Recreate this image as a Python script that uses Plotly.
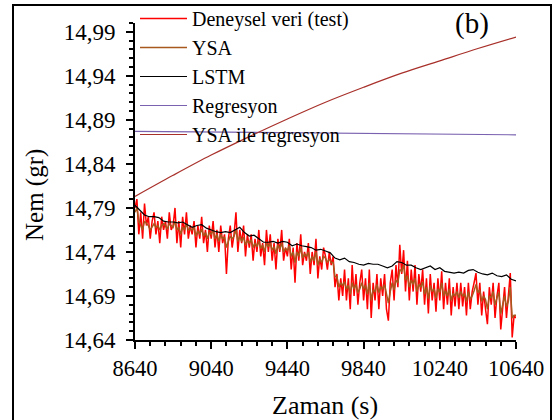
import numpy as np
import plotly.graph_objects as go

# ---------------- data ----------------
t_exp = list(range(8640, 10641, 10))
deneysel = [
    14.790, 14.800, 14.760, 14.785, 14.755, 14.795, 14.770, 14.780, 14.755, 14.775,
    14.785, 14.760, 14.775, 14.750, 14.780, 14.765, 14.775, 14.755, 14.785, 14.765,
    14.770, 14.790, 14.750, 14.775, 14.745, 14.780, 14.760, 14.785, 14.755, 14.770,
    14.760, 14.775, 14.745, 14.770, 14.755, 14.780, 14.750, 14.765, 14.740, 14.770,
    14.755, 14.775, 14.745, 14.765, 14.740, 14.770, 14.750, 14.760, 14.715, 14.755,
    14.770, 14.745, 14.760, 14.785, 14.740, 14.765, 14.750, 14.770, 14.735, 14.760,
    14.745, 14.760, 14.730, 14.755, 14.740, 14.765, 14.735, 14.750, 14.725, 14.765,
    14.740, 14.760, 14.730, 14.750, 14.720, 14.755, 14.740, 14.765, 14.730, 14.745,
    14.735, 14.755, 14.720, 14.745, 14.705, 14.750, 14.730, 14.760, 14.725, 14.740,
    14.730, 14.750, 14.715, 14.740, 14.725, 14.755, 14.710, 14.735, 14.720, 14.745,
    14.735, 14.720, 14.740, 14.725, 14.735, 14.700, 14.715, 14.685, 14.710, 14.690,
    14.720, 14.685, 14.710, 14.675, 14.725, 14.690, 14.715, 14.680, 14.705, 14.720,
    14.685, 14.710, 14.675, 14.720, 14.665, 14.705, 14.685, 14.715, 14.675, 14.710,
    14.690, 14.715, 14.675, 14.662, 14.705, 14.720, 14.685, 14.725, 14.700, 14.748,
    14.715, 14.742, 14.695, 14.730, 14.685, 14.720, 14.695, 14.725, 14.680, 14.715,
    14.695, 14.720, 14.680, 14.710, 14.670, 14.715, 14.685, 14.705, 14.672, 14.710,
    14.685, 14.718, 14.675, 14.705, 14.680, 14.710, 14.668, 14.700, 14.678, 14.705,
    14.675, 14.705, 14.678, 14.700, 14.668, 14.705, 14.675, 14.695, 14.705, 14.716,
    14.680, 14.705, 14.668, 14.695, 14.675, 14.658, 14.700, 14.680, 14.705, 14.665,
    14.690, 14.705, 14.652, 14.678, 14.700, 14.665, 14.688, 14.716, 14.643, 14.668,
    14.665,
]
ysa = [
    14.785, 14.790, 14.775, 14.770, 14.765, 14.775, 14.772, 14.770, 14.765, 14.768,
    14.772, 14.768, 14.770, 14.765, 14.770, 14.772, 14.770, 14.766, 14.772, 14.770,
    14.768, 14.775, 14.765, 14.768, 14.760, 14.768, 14.765, 14.772, 14.765, 14.766,
    14.765, 14.768, 14.758, 14.764, 14.760, 14.766, 14.758, 14.762, 14.755, 14.762,
    14.760, 14.765, 14.755, 14.760, 14.752, 14.760, 14.755, 14.757, 14.745, 14.752,
    14.758, 14.755, 14.758, 14.765, 14.752, 14.758, 14.752, 14.757, 14.748, 14.753,
    14.750, 14.754, 14.745, 14.750, 14.746, 14.752, 14.744, 14.748, 14.740, 14.750,
    14.746, 14.750, 14.742, 14.746, 14.738, 14.748, 14.743, 14.750, 14.740, 14.744,
    14.742, 14.747, 14.735, 14.740, 14.728, 14.740, 14.735, 14.745, 14.733, 14.738,
    14.735, 14.740, 14.728, 14.735, 14.730, 14.740, 14.725, 14.732, 14.728, 14.735,
    14.733, 14.728, 14.732, 14.728, 14.728, 14.712, 14.712, 14.700, 14.705, 14.702,
    14.706, 14.698, 14.702, 14.692, 14.705, 14.698, 14.703, 14.694, 14.698, 14.705,
    14.698, 14.702, 14.692, 14.705, 14.685, 14.697, 14.695, 14.703, 14.694, 14.700,
    14.698, 14.703, 14.690, 14.682, 14.695, 14.705, 14.697, 14.708, 14.705, 14.720,
    14.718, 14.725, 14.708, 14.713, 14.700, 14.708, 14.703, 14.710, 14.695, 14.703,
    14.700, 14.706, 14.692, 14.700, 14.687, 14.702, 14.695, 14.698, 14.688, 14.698,
    14.694, 14.705, 14.690, 14.696, 14.690, 14.698, 14.685, 14.693, 14.690, 14.695,
    14.688, 14.695, 14.690, 14.692, 14.684, 14.695, 14.686, 14.690, 14.696, 14.703,
    14.694, 14.697, 14.684, 14.690, 14.686, 14.675, 14.690, 14.688, 14.695, 14.680,
    14.688, 14.694, 14.670, 14.680, 14.690, 14.678, 14.684, 14.700, 14.665, 14.668,
    14.668,
]
t_lstm = list(range(8640, 10641, 25))
lstm = [
    14.793, 14.788, 14.782, 14.780, 14.780, 14.779, 14.775, 14.774, 14.774, 14.773,
    14.774, 14.771, 14.768, 14.770, 14.771, 14.767, 14.765, 14.763, 14.762, 14.763,
    14.762, 14.765, 14.768, 14.762, 14.758, 14.759, 14.755, 14.751, 14.751, 14.752,
    14.750, 14.752, 14.751, 14.747, 14.749, 14.747, 14.746, 14.745, 14.742, 14.743,
    14.741, 14.739, 14.733, 14.731, 14.733, 14.729, 14.728, 14.726, 14.725, 14.727,
    14.726, 14.726, 14.724, 14.722, 14.724, 14.729, 14.728, 14.725, 14.725, 14.722,
    14.720, 14.722, 14.724, 14.720, 14.722, 14.718, 14.717, 14.716, 14.717, 14.716,
    14.719, 14.720, 14.717, 14.715, 14.714, 14.716, 14.713, 14.712, 14.714, 14.709,
    14.707,
]
t_reg = list(range(8640, 10641, 200))
regresyon = [14.8770, 14.8766, 14.8762, 14.8758, 14.8754, 14.8750,
             14.8746, 14.8742, 14.8738, 14.8734, 14.8730]
ysa_reg = [14.803, 14.827, 14.850, 14.871, 14.891, 14.910,
           14.927, 14.943, 14.957, 14.971, 14.984]

y_ticks = [14.64, 14.69, 14.74, 14.79, 14.84, 14.89, 14.94, 14.99]
y_tick_labels = ["14,64", "14,69", "14,74", "14,79", "14,84", "14,89", "14,94", "14,99"]
x_ticks = [8640, 9040, 9440, 9840, 10240, 10640]
x_tick_labels = ["8640", "9040", "9440", "9840", "10240", "10640"]

FONT = "Liberation Serif"

fig = go.Figure()
fig.add_trace(go.Scatter(x=t_exp, y=deneysel, mode="lines", name="Deneysel veri (test)",
                         line=dict(color="#FF0000", width=1.5)))
fig.add_trace(go.Scatter(x=t_exp, y=ysa, mode="lines", name="YSA",
                         line=dict(color="#A8581C", width=1.5)))
fig.add_trace(go.Scatter(x=t_lstm, y=lstm, mode="lines", name="LSTM",
                         line=dict(color="#000000", width=1.2)))
fig.add_trace(go.Scatter(x=t_reg, y=regresyon, mode="lines", name="Regresyon",
                         line=dict(color="#7A62B0", width=1.2)))
fig.add_trace(go.Scatter(x=t_reg, y=ysa_reg, mode="lines", name="YSA ile regresyon",
                         line=dict(color="#A8302A", width=1.2, shape="spline")))

L, R, T, B = 135, 39, 23, 80
W, H = 555, 420
pw, ph = W - L - R, H - T - B

def px(x):
    return (x - L) / pw

def py(y):
    return (H - B - y) / ph

fig.update_layout(
    width=W, height=H,
    margin=dict(l=L, r=R, t=T, b=B, pad=0, autoexpand=False),
    paper_bgcolor="white", plot_bgcolor="white",
    font=dict(family=FONT, size=20, color="black"),
    showlegend=True,
    legend=dict(x=0.0, y=py(-1), xanchor="left", yanchor="top",
                bgcolor="rgba(0,0,0,0)", borderwidth=0,
                font=dict(family=FONT, size=20, color="black"),
                tracegroupgap=0, itemwidth=47),
    xaxis=dict(range=[8640, 10640], tickvals=x_ticks, ticktext=x_tick_labels,
               ticks="outside", ticklen=7,
               tickwidth=2, tickcolor="black", showline=True, linewidth=2,
               linecolor="black", showgrid=False, zeroline=False,
               tickfont=dict(family=FONT, size=22.5),
               minor=dict(dtick=80, tick0=8640, ticks="outside", ticklen=4,
                          tickwidth=1.5, tickcolor="black", showgrid=False)),
    yaxis=dict(range=[14.64, 15.0], tickvals=y_ticks, ticktext=y_tick_labels,
               ticks="outside", ticklen=7, tickwidth=2, tickcolor="black",
               ticklabelstandoff=6,
               showline=True, linewidth=2, linecolor="black", showgrid=False,
               zeroline=False, tickfont=dict(family=FONT, size=23),
               minor=dict(dtick=0.01, tick0=14.64, ticks="outside", ticklen=4,
                          tickwidth=1.5, tickcolor="black", showgrid=False)),
)

fig.add_annotation(text="Nem (gr)", x=px(35), y=py(195), xref="paper", yref="paper",
                   xanchor="center", yanchor="middle",
                   showarrow=False, textangle=-90, font=dict(family=FONT, size=25))
fig.add_annotation(text="Zaman (s)", x=px(325), y=py(405), xref="paper", yref="paper",
                   xanchor="center", yanchor="middle",
                   showarrow=False, font=dict(family=FONT, size=26))
fig.add_annotation(text="(b)", x=px(472), y=py(24), xref="paper", yref="paper",
                   xanchor="center", yanchor="middle",
                   showarrow=False, font=dict(family=FONT, size=29))
fig.add_shape(type="rect", xref="paper", yref="paper",
              x0=px(13), x1=px(551), y0=py(430), y1=py(5),
              line=dict(color="black", width=2), fillcolor="rgba(0,0,0,0)", layer="above")

fig.write_html("out.html")
